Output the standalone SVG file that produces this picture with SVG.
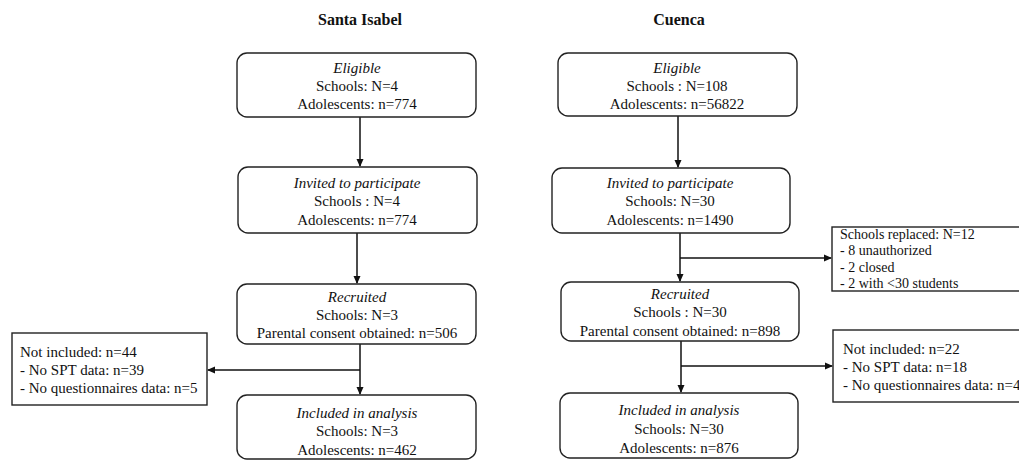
<svg xmlns="http://www.w3.org/2000/svg" width="1019" height="460" viewBox="0 0 1019 460">
<style>
text{font-family:"Liberation Serif","Times New Roman",serif;font-size:15px;fill:#111}
.t{font-weight:bold;font-size:16px;text-anchor:middle}
.c{text-anchor:middle}
.i{font-style:italic}
.box{fill:#fff;stroke:#222;stroke-width:1.4}
.ln{fill:none;stroke:#111;stroke-width:1.5}
.s{font-size:14px}
</style>
<defs>
<marker id="ah" markerWidth="8" markerHeight="8" refX="7" refY="4" orient="auto" markerUnits="userSpaceOnUse">
<path d="M0,0.5 L8,4 L0,7.5 Z" fill="#111"/>
</marker>
</defs>
<rect width="1019" height="460" fill="#fff"/>
<text class="t" x="360" y="25">Santa Isabel</text>
<text class="t" x="679" y="25">Cuenca</text>

<g id="connectors">
<line class="ln" x1="360" y1="117" x2="360" y2="166" marker-end="url(#ah)"/>
<line class="ln" x1="357" y1="233" x2="357" y2="283" marker-end="url(#ah)"/>
<line class="ln" x1="360" y1="344" x2="360" y2="394" marker-end="url(#ah)"/>
<line class="ln" x1="360" y1="370" x2="208" y2="370" marker-end="url(#ah)"/>
<line class="ln" x1="678" y1="116" x2="678" y2="167" marker-end="url(#ah)"/>
<line class="ln" x1="680" y1="233" x2="680" y2="281" marker-end="url(#ah)"/>
<line class="ln" x1="680" y1="258" x2="831" y2="258" marker-end="url(#ah)"/>
<line class="ln" x1="681" y1="341" x2="681" y2="392" marker-end="url(#ah)"/>
<line class="ln" x1="681" y1="366" x2="832" y2="366" marker-end="url(#ah)"/>
</g>

<g id="si-eligible">
<rect class="box" x="237" y="53" width="239" height="64" rx="10"/>
<text class="c i" x="357" y="73">Eligible</text>
<text class="c" x="357" y="91">Schools: N=4</text>
<text class="c" x="357" y="109">Adolescents: n=774</text>
</g>
<g id="si-invited">
<rect class="box" x="238" y="167" width="239" height="66" rx="10"/>
<text class="c i" x="357" y="188">Invited to participate</text>
<text class="c" x="357" y="206">Schools : N=4</text>
<text class="c" x="357" y="225">Adolescents: n=774</text>
</g>
<g id="si-recruited">
<rect class="box" x="237" y="284" width="239" height="60" rx="10"/>
<text class="c i" x="357" y="302">Recruited</text>
<text class="c" x="357" y="320">Schools: N=3</text>
<text class="c" x="357" y="338">Parental consent obtained: n=506</text>
</g>
<g id="si-notincluded">
<rect class="box" x="12" y="333" width="195" height="72"/>
<text x="20" y="357">Not included: n=44</text>
<text x="20" y="375">- No SPT data: n=39</text>
<text x="20" y="393">- No questionnaires data: n=5</text>
</g>
<g id="si-included">
<rect class="box" x="237" y="395" width="239" height="64" rx="10"/>
<text class="c i" x="357" y="418">Included in analysis</text>
<text class="c" x="357" y="436">Schools: N=3</text>
<text class="c" x="357" y="455">Adolescents: n=462</text>
</g>

<g id="c-eligible">
<rect class="box" x="558" y="53" width="239" height="63" rx="10"/>
<text class="c i" x="677" y="73">Eligible</text>
<text class="c" x="677" y="91">Schools : N=108</text>
<text class="c" x="677" y="109">Adolescents: n=56822</text>
</g>
<g id="c-invited">
<rect class="box" x="552" y="168" width="238" height="65" rx="10"/>
<text class="c i" x="670" y="188">Invited to participate</text>
<text class="c" x="670" y="206">Schools: N=30</text>
<text class="c" x="670" y="225">Adolescents: n=1490</text>
</g>
<g id="c-replaced">
<rect class="box" x="832" y="227" width="190" height="64"/>
<text class="s" x="840" y="239">Schools replaced: N=12</text>
<text class="s" x="840" y="255">- 8 unauthorized</text>
<text class="s" x="840" y="272">- 2 closed</text>
<text class="s" x="840" y="288">- 2 with &lt;30 students</text>
</g>
<g id="c-recruited">
<rect class="box" x="561" y="282" width="238" height="59" rx="10"/>
<text class="c i" x="680" y="299">Recruited</text>
<text class="c" x="680" y="317">Schools : N=30</text>
<text class="c" x="680" y="336">Parental consent obtained: n=898</text>
</g>
<g id="c-notincluded">
<rect class="box" x="833" y="330" width="190" height="72"/>
<text x="843" y="354">Not included: n=22</text>
<text x="843" y="372">- No SPT data: n=18</text>
<text x="843" y="390">- No questionnaires data: n=4</text>
</g>
<g id="c-included">
<rect class="box" x="560" y="393" width="238" height="65" rx="10"/>
<text class="c i" x="679" y="415">Included in analysis</text>
<text class="c" x="679" y="434">Schools: N=30</text>
<text class="c" x="679" y="453">Adolescents: n=876</text>
</g>
</svg>
